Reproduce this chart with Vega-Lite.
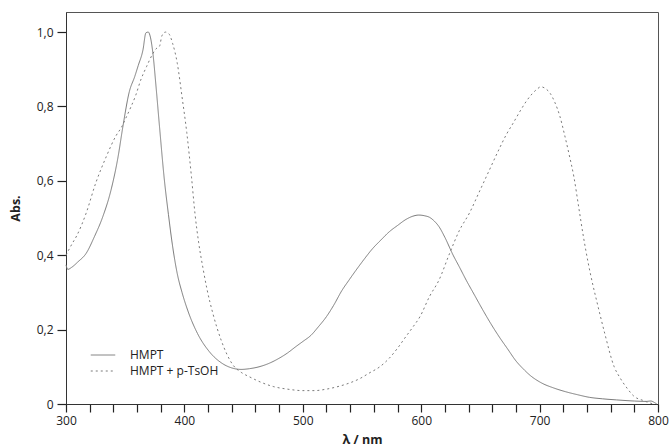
{
  "$schema": "https://vega.github.io/schema/vega-lite/v6.json",
  "width": 592,
  "height": 392,
  "autosize": {"type": "none"},
  "padding": {"left": 66, "top": 12, "right": 11, "bottom": 44},
  "background": "white",
  "config": {
    "font": "Open Sans",
    "view": {"stroke": "#555555", "strokeWidth": 1}
  },
  "data": {
    "values": [
      {"s":"HMPT","x":300,"y":0.374},{"s":"HMPT","x":301.5,"y":0.362},{"s":"HMPT","x":305,"y":0.368},{"s":"HMPT","x":310,"y":0.382},{"s":"HMPT","x":317,"y":0.405},{"s":"HMPT","x":324,"y":0.45},{"s":"HMPT","x":331,"y":0.503},{"s":"HMPT","x":338,"y":0.575},{"s":"HMPT","x":344,"y":0.665},{"s":"HMPT","x":348,"y":0.745},{"s":"HMPT","x":353.5,"y":0.84},{"s":"HMPT","x":358,"y":0.88},{"s":"HMPT","x":361,"y":0.91},{"s":"HMPT","x":365,"y":0.952},{"s":"HMPT","x":367.5,"y":0.998},{"s":"HMPT","x":369.5,"y":1.0},{"s":"HMPT","x":371,"y":0.99},{"s":"HMPT","x":373.5,"y":0.94},{"s":"HMPT","x":376,"y":0.855},{"s":"HMPT","x":379,"y":0.745},{"s":"HMPT","x":383,"y":0.605},{"s":"HMPT","x":386.5,"y":0.51},{"s":"HMPT","x":390,"y":0.425},{"s":"HMPT","x":394,"y":0.35},{"s":"HMPT","x":398,"y":0.3},{"s":"HMPT","x":403,"y":0.25},{"s":"HMPT","x":411,"y":0.19},{"s":"HMPT","x":421,"y":0.141},{"s":"HMPT","x":432,"y":0.109},{"s":"HMPT","x":440,"y":0.097},{"s":"HMPT","x":448,"y":0.093},{"s":"HMPT","x":455,"y":0.095},{"s":"HMPT","x":463,"y":0.1},{"s":"HMPT","x":472,"y":0.11},{"s":"HMPT","x":480,"y":0.123},{"s":"HMPT","x":487,"y":0.137},{"s":"HMPT","x":494,"y":0.154},{"s":"HMPT","x":500,"y":0.168},{"s":"HMPT","x":507,"y":0.185},{"s":"HMPT","x":513,"y":0.207},{"s":"HMPT","x":520,"y":0.235},{"s":"HMPT","x":526,"y":0.265},{"s":"HMPT","x":533,"y":0.305},{"s":"HMPT","x":539,"y":0.333},{"s":"HMPT","x":545,"y":0.36},{"s":"HMPT","x":552,"y":0.39},{"s":"HMPT","x":559,"y":0.418},{"s":"HMPT","x":566,"y":0.441},{"s":"HMPT","x":573,"y":0.463},{"s":"HMPT","x":580,"y":0.48},{"s":"HMPT","x":587,"y":0.496},{"s":"HMPT","x":593,"y":0.505},{"s":"HMPT","x":598,"y":0.508},{"s":"HMPT","x":603,"y":0.506},{"s":"HMPT","x":607,"y":0.502},{"s":"HMPT","x":611,"y":0.492},{"s":"HMPT","x":615,"y":0.477},{"s":"HMPT","x":620,"y":0.448},{"s":"HMPT","x":627,"y":0.4},{"s":"HMPT","x":632,"y":0.37},{"s":"HMPT","x":638,"y":0.333},{"s":"HMPT","x":645,"y":0.293},{"s":"HMPT","x":652,"y":0.253},{"s":"HMPT","x":659,"y":0.215},{"s":"HMPT","x":666,"y":0.18},{"s":"HMPT","x":673,"y":0.148},{"s":"HMPT","x":680,"y":0.116},{"s":"HMPT","x":686,"y":0.095},{"s":"HMPT","x":692,"y":0.077},{"s":"HMPT","x":702,"y":0.056},{"s":"HMPT","x":712,"y":0.043},{"s":"HMPT","x":722,"y":0.033},{"s":"HMPT","x":732,"y":0.025},{"s":"HMPT","x":742,"y":0.018},{"s":"HMPT","x":753,"y":0.014},{"s":"HMPT","x":765,"y":0.011},{"s":"HMPT","x":780,"y":0.008},{"s":"HMPT","x":790,"y":0.007},{"s":"HMPT","x":794,"y":0.008},{"s":"HMPT","x":797,"y":0.004},{"s":"HMPT","x":799,"y":0.0},
      {"s":"HMPT + p-TsOH","x":300,"y":0.4},{"s":"HMPT + p-TsOH","x":305,"y":0.43},{"s":"HMPT + p-TsOH","x":309,"y":0.452},{"s":"HMPT + p-TsOH","x":317,"y":0.513},{"s":"HMPT + p-TsOH","x":325,"y":0.593},{"s":"HMPT + p-TsOH","x":334,"y":0.665},{"s":"HMPT + p-TsOH","x":342,"y":0.72},{"s":"HMPT + p-TsOH","x":347,"y":0.745},{"s":"HMPT + p-TsOH","x":351,"y":0.772},{"s":"HMPT + p-TsOH","x":355,"y":0.8},{"s":"HMPT + p-TsOH","x":359,"y":0.831},{"s":"HMPT + p-TsOH","x":363,"y":0.87},{"s":"HMPT + p-TsOH","x":368,"y":0.907},{"s":"HMPT + p-TsOH","x":373,"y":0.94},{"s":"HMPT + p-TsOH","x":376,"y":0.955},{"s":"HMPT + p-TsOH","x":379,"y":0.962},{"s":"HMPT + p-TsOH","x":381,"y":0.99},{"s":"HMPT + p-TsOH","x":384,"y":1.0},{"s":"HMPT + p-TsOH","x":387,"y":0.995},{"s":"HMPT + p-TsOH","x":390,"y":0.97},{"s":"HMPT + p-TsOH","x":394,"y":0.916},{"s":"HMPT + p-TsOH","x":398,"y":0.826},{"s":"HMPT + p-TsOH","x":402,"y":0.73},{"s":"HMPT + p-TsOH","x":406,"y":0.61},{"s":"HMPT + p-TsOH","x":409,"y":0.51},{"s":"HMPT + p-TsOH","x":412,"y":0.435},{"s":"HMPT + p-TsOH","x":416,"y":0.36},{"s":"HMPT + p-TsOH","x":419,"y":0.31},{"s":"HMPT + p-TsOH","x":424,"y":0.244},{"s":"HMPT + p-TsOH","x":431,"y":0.172},{"s":"HMPT + p-TsOH","x":441,"y":0.105},{"s":"HMPT + p-TsOH","x":448,"y":0.085},{"s":"HMPT + p-TsOH","x":455,"y":0.073},{"s":"HMPT + p-TsOH","x":465,"y":0.058},{"s":"HMPT + p-TsOH","x":475,"y":0.047},{"s":"HMPT + p-TsOH","x":487,"y":0.04},{"s":"HMPT + p-TsOH","x":500,"y":0.036},{"s":"HMPT + p-TsOH","x":510,"y":0.036},{"s":"HMPT + p-TsOH","x":520,"y":0.04},{"s":"HMPT + p-TsOH","x":531,"y":0.048},{"s":"HMPT + p-TsOH","x":539,"y":0.056},{"s":"HMPT + p-TsOH","x":548,"y":0.068},{"s":"HMPT + p-TsOH","x":556,"y":0.083},{"s":"HMPT + p-TsOH","x":565,"y":0.1},{"s":"HMPT + p-TsOH","x":573,"y":0.123},{"s":"HMPT + p-TsOH","x":580,"y":0.15},{"s":"HMPT + p-TsOH","x":587,"y":0.181},{"s":"HMPT + p-TsOH","x":593,"y":0.207},{"s":"HMPT + p-TsOH","x":599,"y":0.235},{"s":"HMPT + p-TsOH","x":607,"y":0.289},{"s":"HMPT + p-TsOH","x":615,"y":0.333},{"s":"HMPT + p-TsOH","x":624,"y":0.405},{"s":"HMPT + p-TsOH","x":632,"y":0.465},{"s":"HMPT + p-TsOH","x":641,"y":0.515},{"s":"HMPT + p-TsOH","x":649,"y":0.57},{"s":"HMPT + p-TsOH","x":657,"y":0.625},{"s":"HMPT + p-TsOH","x":665,"y":0.68},{"s":"HMPT + p-TsOH","x":672,"y":0.725},{"s":"HMPT + p-TsOH","x":678,"y":0.757},{"s":"HMPT + p-TsOH","x":684,"y":0.79},{"s":"HMPT + p-TsOH","x":689,"y":0.815},{"s":"HMPT + p-TsOH","x":694,"y":0.835},{"s":"HMPT + p-TsOH","x":698,"y":0.847},{"s":"HMPT + p-TsOH","x":701,"y":0.853},{"s":"HMPT + p-TsOH","x":705,"y":0.848},{"s":"HMPT + p-TsOH","x":709,"y":0.835},{"s":"HMPT + p-TsOH","x":713,"y":0.81},{"s":"HMPT + p-TsOH","x":717,"y":0.775},{"s":"HMPT + p-TsOH","x":721,"y":0.725},{"s":"HMPT + p-TsOH","x":725,"y":0.67},{"s":"HMPT + p-TsOH","x":729,"y":0.61},{"s":"HMPT + p-TsOH","x":733,"y":0.53},{"s":"HMPT + p-TsOH","x":737,"y":0.45},{"s":"HMPT + p-TsOH","x":741,"y":0.38},{"s":"HMPT + p-TsOH","x":745,"y":0.32},{"s":"HMPT + p-TsOH","x":748,"y":0.28},{"s":"HMPT + p-TsOH","x":755,"y":0.19},{"s":"HMPT + p-TsOH","x":763,"y":0.1},{"s":"HMPT + p-TsOH","x":768,"y":0.07},{"s":"HMPT + p-TsOH","x":774,"y":0.042},{"s":"HMPT + p-TsOH","x":780,"y":0.02},{"s":"HMPT + p-TsOH","x":787,"y":0.01},{"s":"HMPT + p-TsOH","x":792,"y":0.004},{"s":"HMPT + p-TsOH","x":796,"y":0.0}
    ]
  },
  "mark": {"type": "line", "strokeWidth": 1, "color": "#7a7a7a", "interpolate": "monotone"},
  "encoding": {
    "x": {"field": "x", "type": "quantitative", "scale": {"domain": [300, 800], "nice": false, "zero": false},
          "axis": {"values": [300, 320, 340, 360, 380, 400, 420, 440, 460, 480, 500, 520, 540, 560, 580, 600, 620, 640, 660, 680, 700, 720, 740, 760, 780, 800],
                   "grid": false, "ticks": true, "tickSize": 8, "tickWidth": 1.2, "tickColor": "#222222", "domainColor": "#333333",
                   "labelColor": "#222222", "labelFontSize": 12, "labelPadding": 3, "labelFlush": false,
                   "labelExpr": "datum.value % 100 == 0 ? datum.label : ''",
                   "title": "λ / nm", "titlePadding": 7, "titleFontSize": 12.5, "titleFontWeight": "bold", "titleColor": "#222222"}},
    "y": {"field": "y", "type": "quantitative", "scale": {"domain": [0, 1.054], "nice": false, "zero": true},
          "axis": {"values": [0, 0.2, 0.4, 0.6, 0.8, 1.0], "grid": false, "ticks": true, "tickSize": 9, "tickWidth": 1.2, "tickColor": "#222222", "domainColor": "#333333",
                   "labelColor": "#222222", "labelFontSize": 12, "labelPadding": 4,
                   "title": "Abs.", "titlePadding": 14, "titleFontSize": 12.5, "titleFontWeight": "bold", "titleColor": "#222222",
                   "labelExpr": "datum.value == 0 ? '0' : replace(format(datum.value, '.1f'), '.', ',')"}},
    "strokeDash": {"field": "s", "type": "nominal",
      "scale": {"domain": ["HMPT", "HMPT + p-TsOH"], "range": [[1, 0], [2, 3]]},
      "legend": {"title": null, "orient": "none", "legendX": 24, "legendY": 335, "symbolType": "stroke", "symbolSize": 600,
                 "symbolStrokeColor": "#7a7a7a", "symbolStrokeWidth": 1, "labelFontSize": 12, "labelColor": "#222222",
                 "clipHeight": 16, "rowPadding": 0, "labelOffset": 14}}
  }
}
